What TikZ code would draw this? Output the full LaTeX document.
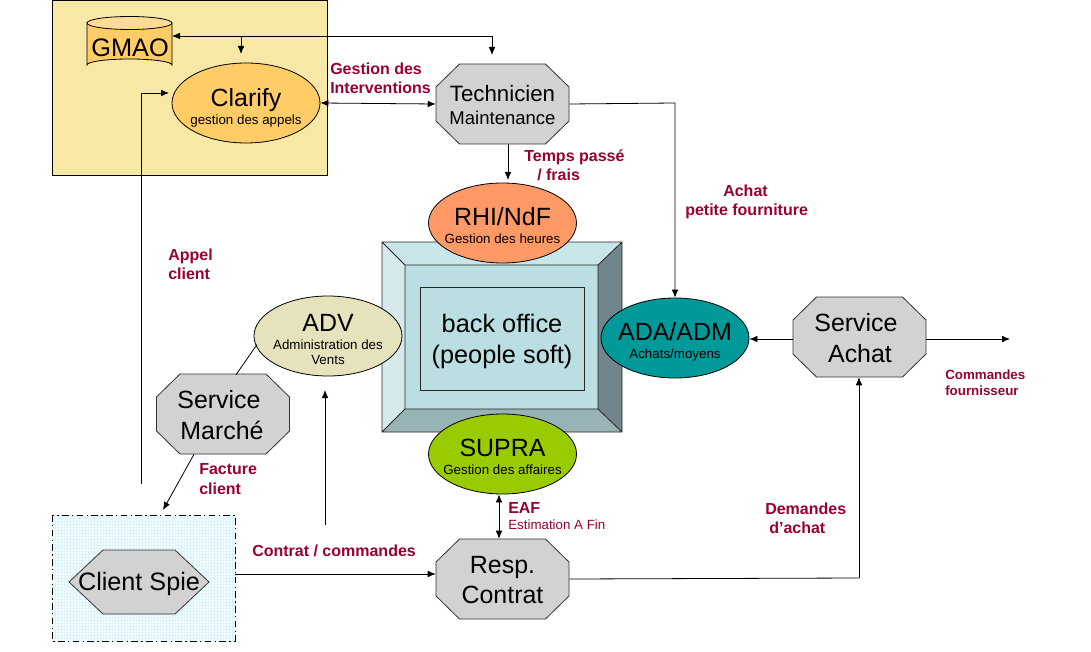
\documentclass[tikz,border=0pt]{standalone}
\usepackage{fontspec}
\setmainfont{Liberation Sans}
\usetikzlibrary{arrows.meta,shapes.geometric}
\definecolor{lblred}{HTML}{990033}
\definecolor{octgray}{HTML}{D2D2D2}
\definecolor{clarifyc}{HTML}{FFCC66}
\definecolor{yellowbg}{HTML}{F7E8A6}
\newcommand{\bigf}{\fontsize{18.7}{23}\selectfont}
\newcommand{\subf}{\fontsize{10}{12}\selectfont}
\newcommand{\octo}[5]{% name cx cy label textx
  \fill[octgray] (#2-66.5,#3-17) -- (#2-43,#3-40) -- (#2+43,#3-40) -- (#2+66.5,#3-17) -- (#2+66.5,#3+17) -- (#2+43,#3+40) -- (#2-43,#3+40) -- (#2-66.5,#3+17) -- cycle;
  \draw[line width=.6pt,black!80] (#2-66.5,#3-17) -- (#2-43,#3-40) -- (#2+43,#3-40) -- (#2+66.5,#3-17) -- (#2+66.5,#3+17) -- (#2+43,#3+40) -- (#2-43,#3+40) -- (#2-66.5,#3+17) -- cycle;
  \node[octbox] (#1) at (#2,#3) {};
  \node[txt] (#1txt) at (#5,#3+1) {#4};
}
\tikzset{
  x=0.75pt,y=-0.75pt,
  conn/.style={line width=.6pt,black},
  tip/.style={conn,-{Latex[length=6pt,width=5pt]}},
  dtip/.style={conn,{Latex[length=6pt,width=5pt]}-{Latex[length=6pt,width=5pt]}},
  octbox/.style={rectangle,minimum width=99.75pt,minimum height=60pt,inner sep=0pt},
  txt/.style={inner sep=0pt,align=center,font=\bigf},
  ell/.style={ellipse,draw=black,line width=.6pt,minimum width=111pt,minimum height=60pt,inner sep=0pt},
  lbl/.style={anchor=west,inner sep=0pt,yshift=-.75pt,text=lblred,text height=9pt,text depth=2.5pt,font=\bfseries\fontsize{12}{14}\selectfont},
  lblsmall/.style={anchor=west,inner sep=0pt,yshift=-.75pt,text=lblred,text height=7.5pt,text depth=2pt,font=\bfseries\fontsize{10}{12}\selectfont},
  lblreg/.style={anchor=west,inner sep=0pt,text=lblred,text height=7.5pt,text depth=2pt,font=\fontsize{10}{12}\selectfont},
}
\begin{document}
\begin{tikzpicture}
\useasboundingbox (0,0) rectangle (1091,652);
% yellow frame
\draw[fill=yellowbg,line width=.7pt] (52,0) rectangle (327,175);
% client box
\fill[cyan!4] (52,515) rectangle (235,641);
\foreach \gx in {55,58,...,235} \draw[cyan!14,line width=.2pt] (\gx,515) -- (\gx,641);
\foreach \gy in {518,521,...,641} \draw[cyan!14,line width=.2pt] (52,\gy) -- (235,\gy);
\draw[line width=.7pt,dash pattern=on 5pt off 2.5pt on 1pt off 2.5pt] (52,515) rectangle (235,641);
% bevel
\fill[fill={rgb,255:red,200;green,230;blue,234}] (382,242) -- (622,242) -- (598,265) -- (405,265) -- cycle;
\fill[fill={rgb,255:red,214;green,234;blue,238}] (382,242) -- (405,265) -- (405,409) -- (382,432) -- cycle;
\fill[fill={rgb,255:red,112;green,134;blue,138}] (622,242) -- (598,265) -- (598,409) -- (622,432) -- cycle;
\fill[fill={rgb,255:red,151;green,179;blue,181}] (382,432) -- (405,409) -- (598,409) -- (622,432) -- cycle;
\fill[fill={rgb,255:red,186;green,222;blue,226}] (405,265) rectangle (598,409);
\draw[line width=.6pt,black!85] (382,242) rectangle (622,432) (405,265) rectangle (598,409)
  (382,242) -- (405,265) (622,242) -- (598,265) (382,432) -- (405,409) (622,432) -- (598,409);
\node[draw=black!85,line width=.6pt,minimum width=123pt,minimum height=77.25pt,inner sep=0pt] (back) at (502,338.5) {};
\node[txt,font=\fontsize{19}{23.3}\selectfont] (backtxt) at (502,341.5) {back office\\(people soft)};
% GMAO cylinder
\draw[fill=clarifyc,line width=.6pt] (87,23) -- (87,65) arc[start angle=180,end angle=360,x radius=42.5,y radius=6] -- (172,23) -- cycle;
\draw[fill=clarifyc!70!white,line width=.6pt] (129.5,23) ellipse [x radius=42.5,y radius=6.5];
\node[inner sep=0pt,minimum width=63.75pt,minimum height=30pt,font=\fontsize{19}{23}\selectfont] (gmao) at (130,48) {GMAO};
% ellipses
\node[ell,fill=clarifyc] (clarify) at (246,103) {};
\node[txt] (clarifytxt) at (246,108) {Clarify\\[-9.25pt]\subf gestion des appels};
\node[ell,fill={rgb,255:red,255;green,153;blue,102}] (rhi) at (502.5,223) {};
\node[txt] (rhitxt) at (502.5,225.5) {RHI/NdF\\[-9.25pt]\subf Gestion des heures};
\node[ell,fill={rgb,255:red,153;green,204;blue,0}] (supra) at (502.5,454) {};
\node[txt] (supratxt) at (502.5,457) {SUPRA\\[-9.25pt]\subf Gestion des affaires};
\node[ell,fill={rgb,255:red,0;green,153;blue,153}] (ada) at (675,338) {};
\node[txt] (adatxt) at (675,342) {ADA/ADM\\[-9.25pt]\subf Achats/moyens};
\node[ell,fill={rgb,255:red,230;green,226;blue,188}] (adv) at (328,336) {};
\node[txt] (advtxt) at (328,339) {ADV\\[-9.25pt]\subf Administration des\\[-12pt]\subf Vents};
% octagons
\octo{tech}{502.5}{104}{\fontsize{16.7}{18}\selectfont Technicien\\[-6.25pt]\fontsize{13.9}{18}\selectfont Maintenance}{502.5}
\octo{marche}{223}{414}{Service\hspace*{4.5pt}\\Marché}{222}
\octo{achat}{859.5}{337}{Service\hspace*{6pt}\\Achat}{860}
\octo{resp}{502.5}{579}{Resp.\\Contrat}{502.5}
% hexagon
\fill[octgray] (69,582) -- (103,550) -- (175,550) -- (209,582) -- (175,614) -- (103,614) -- cycle;
\draw[line width=.6pt,black!80] (69,582) -- (103,550) -- (175,550) -- (209,582) -- (175,614) -- (103,614) -- cycle;
\node[inner sep=0pt,font=\fontsize{18.9}{23}\selectfont] (client) at (139,584) {Client Spie};
\node[inner sep=0pt,minimum width=137.25pt,minimum height=94.5pt] (clientbox) at (143.5,578) {};
% free ends
\coordinate (corner1) at (492,36);
\coordinate (branch) at (241,36);
\coordinate (branchend) at (241,54);
\coordinate (techtop) at (492,55);
\coordinate (corner2) at (675,103);
\coordinate (corner3) at (141,93);
\coordinate (appelstart) at (141,484);
\coordinate (clarend) at (169,93);
\coordinate (advstart) at (325,525);
\coordinate (advend) at (325,390);
\coordinate (cmdend) at (1010,339);
\coordinate (factend) at (163,510);
\coordinate (corner4) at (859,578);
\coordinate (tempsend) at (508,180);
\coordinate (gmaoport) at (172,36);
% connectors
\draw[dtip] (gmaoport) -- (corner1) -- (techtop);
\draw[tip] (branch) -- (branchend);
\draw[dtip] (clarify.east) -- (tech.west);
\draw[tip] (tech.south -| tempsend) -- (tempsend);
\draw[tip] (tech.east) -- (corner2) -- (corner2 |- ada.north);
\draw[tip] (appelstart) -- (corner3) -- (clarend);
\draw[conn] ([shift={(13,1)}]marche.north) -- ([shift={(-71,49)}]adv.north);
\draw[tip] ([shift={(-29,0)}]marche.south) -- (factend);
\draw[tip] (advstart) -- (advend);
\draw[tip] ([shift={(0,-5)}]clientbox.east |- resp.west) -- ([shift={(0,-5)}]resp.west);
\draw[dtip] ([shift={(-3.5,0)}]supra.south) -- ([shift={(-3.5,0)}]resp.north);
\draw[conn] (resp.east) -- (corner4);
\draw[tip] (corner4) -- (corner4 |- achat.south);
\draw[tip] ([shift={(0,2)}]achat.west) -- ([shift={(0,1)}]ada.east);
\draw[tip] ([shift={(0,2)}]achat.east) -- (cmdend);
% labels
\node[lbl] (l1) at (330,69) {Gestion des};
\node[lbl] (l2) at (330,88) {Interventions};
\node[lbl] (l3) at (524,156) {Temps passé};
\node[lbl] (l4) at (537,175) {/ frais};
\node[lbl] (l5) at (723,191) {Achat};
\node[lbl] (l6) at (685,210) {petite fourniture};
\node[lbl] (l7) at (168,255) {Appel};
\node[lbl] (l8) at (168,274) {client};
\node[lbl] (l9) at (199,469) {Facture};
\node[lbl] (l10) at (199,489) {client};
\node[lbl] (l11) at (508,508) {EAF};
\node[lblreg] (l12) at (508,526) {Estimation A Fin};
\node[lbl] (l13) at (252,551) {Contrat / commandes};
\node[lbl] (l14) at (765,509) {Demandes};
\node[lbl] (l15) at (769,528) {d’achat};
\node[lblsmall] (l16) at (945,375) {Commandes};
\node[lblsmall] (l17) at (945,391) {fournisseur};
\end{tikzpicture}
\end{document}
